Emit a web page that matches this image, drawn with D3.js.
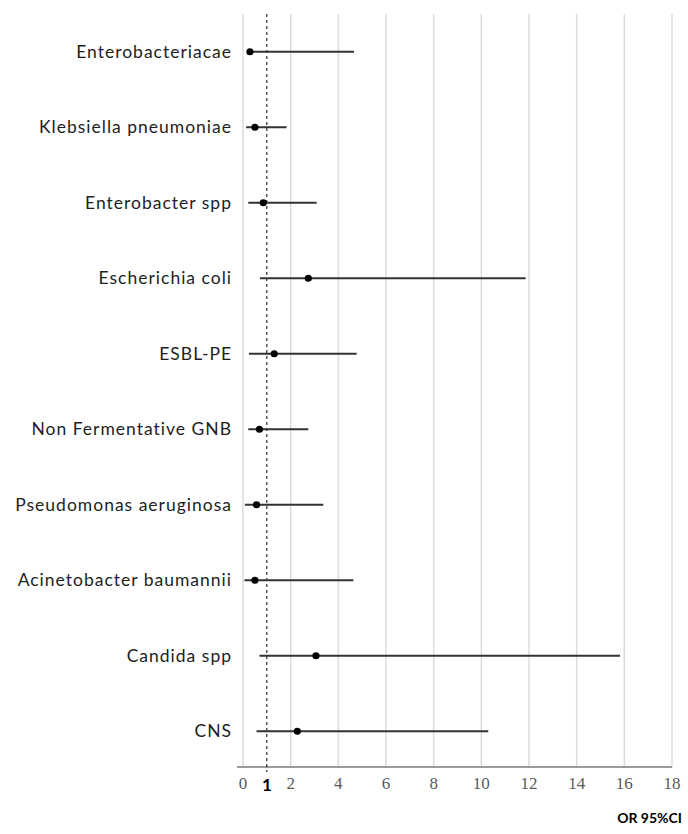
<!DOCTYPE html>
<html>
<head>
<meta charset="utf-8">
<script src="https://cdn.jsdelivr.net/npm/d3@7"></script>
<style>
  html, body { margin: 0; padding: 0; background: #ffffff; }
  svg { display: block; }
</style>
</head>
<body>
<div id="chart"></div>
<script>
const categories = [
  "Enterobacteriacae",
  "Klebsiella pneumoniae",
  "Enterobacter spp",
  "Escherichia coli",
  "ESBL-PE",
  "Non Fermentative GNB",
  "Pseudomonas aeruginosa",
  "Acinetobacter baumannii",
  "Candida spp",
  "CNS"
];
const oddsRatio = [0.29, 0.50, 0.85, 2.74, 1.31, 0.69, 0.57, 0.50, 3.06, 2.28];
const ciLower   = [0.29, 0.13, 0.22, 0.71, 0.25, 0.22, 0.08, 0.06, 0.69, 0.57];
const ciUpper   = [4.66, 1.83, 3.09, 11.86, 4.77, 2.74, 3.37, 4.63, 15.82, 10.29];
const xTicks = [0, 2, 4, 6, 8, 10, 12, 14, 16, 18];
const refValue = 1;
const axisTitle = "OR 95%CI";

const W = 688, H = 834;
const svg = d3.select("#chart").append("svg").attr("width", W).attr("height", H);

const x = d3.scaleLinear().domain([0, 18]).range([243, 672]);
const y = d3.scaleBand().domain(categories).range([14, 769]);

// vertical gridlines
svg.append("g").selectAll("line").data(xTicks).join("line")
  .attr("x1", d => x(d)).attr("x2", d => x(d))
  .attr("y1", 14).attr("y2", 767)
  .attr("stroke", "#dcdcdc").attr("stroke-width", 1.5);

// axis baseline
svg.append("line")
  .attr("x1", x(0) - 6).attr("x2", x(18))
  .attr("y1", 767).attr("y2", 767)
  .attr("stroke", "#7a7a7a").attr("stroke-width", 1.6);

// tick labels
svg.append("g").selectAll("text").data(xTicks).join("text")
  .attr("x", d => x(d)).attr("y", 789)
  .attr("text-anchor", "middle")
  .attr("font-family", "Liberation Serif, serif")
  .attr("font-size", 17)
  .attr("fill", "#595959")
  .text(d => d);

// reference dashed line at OR = 1
svg.append("line")
  .attr("x1", x(refValue)).attr("x2", x(refValue))
  .attr("y1", 14).attr("y2", 772)
  .attr("stroke", "#000").attr("stroke-width", 1)
  .attr("stroke-dasharray", "3,3");

svg.append("text")
  .attr("x", x(refValue)).attr("y", 791)
  .attr("text-anchor", "middle")
  .attr("font-family", "Lato, sans-serif")
  .attr("font-weight", "bold")
  .attr("font-size", 17)
  .attr("fill", "#000")
  .text(refValue);

// rows
const rows = categories.map((c, i) => ({ c, or: oddsRatio[i], lo: ciLower[i], hi: ciUpper[i] }));
const cy = d => y(d.c) + y.bandwidth() / 2;

svg.append("g").selectAll("line").data(rows).join("line")
  .attr("x1", d => x(d.lo)).attr("x2", d => x(d.hi))
  .attr("y1", cy).attr("y2", cy)
  .attr("stroke", "#333333").attr("stroke-width", 2);

svg.append("g").selectAll("circle").data(rows).join("circle")
  .attr("cx", d => x(d.or)).attr("cy", cy)
  .attr("r", 3.6).attr("fill", "#000");

// category labels
svg.append("g").selectAll("text").data(rows).join("text")
  .attr("x", 232).attr("y", cy)
  .attr("dy", "0.35em")
  .attr("text-anchor", "end")
  .attr("font-family", "Lato, sans-serif")
  .attr("font-size", 17.5)
  .attr("letter-spacing", 1)
  .attr("fill", "#1e1e1e")
  .text(d => d.c);

// axis title
svg.append("text")
  .attr("x", 682).attr("y", 823)
  .attr("text-anchor", "end")
  .attr("font-family", "Lato, sans-serif")
  .attr("font-weight", "bold")
  .attr("font-size", 14)
  .attr("fill", "#000")
  .text(axisTitle);
</script>
</body>
</html>
